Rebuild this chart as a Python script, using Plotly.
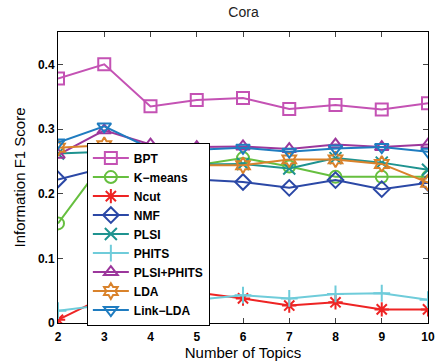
import plotly.graph_objects as go

topics = [2, 3, 4, 5, 6, 7, 8, 9, 10]
bpt = [0.378, 0.400, 0.335, 0.345, 0.348, 0.331, 0.337, 0.330, 0.340]
kmeans = [0.154, 0.250, 0.248, 0.244, 0.255, 0.242, 0.226, 0.226, 0.226]
ncut = [0.005, 0.040, 0.050, 0.047, 0.038, 0.027, 0.032, 0.021, 0.021]
nmf = [0.222, 0.240, 0.228, 0.222, 0.218, 0.209, 0.221, 0.207, 0.217]
plsi = [0.262, 0.265, 0.250, 0.245, 0.246, 0.239, 0.255, 0.248, 0.237]
phits = [0.019, 0.028, 0.033, 0.036, 0.043, 0.038, 0.045, 0.046, 0.036]
plsi_phits = [0.260, 0.298, 0.276, 0.272, 0.273, 0.269, 0.276, 0.272, 0.276]
lda = [0.271, 0.275, 0.250, 0.244, 0.244, 0.253, 0.253, 0.246, 0.217]
link_lda = [0.279, 0.304, 0.270, 0.268, 0.271, 0.265, 0.270, 0.272, 0.265]

series = [
    ("BPT", bpt, "#c452b4", "square-open"),
    ("K\u2212means", kmeans, "#66bf3f", "circle-open"),
    ("Ncut", ncut, "#ee2424", "asterisk-open"),
    ("NMF", nmf, "#2b48a6", "diamond-open"),
    ("PLSI", plsi, "#1f9390", "x-thin-open"),
    ("PHITS", phits, "#6fccda", "cross-thin-open"),
    ("PLSI+PHITS", plsi_phits, "#9c379c", "triangle-up-open"),
    ("LDA", lda, "#d9822b", "hexagram-open"),
    ("Link\u2212LDA", link_lda, "#1f7cc0", "triangle-down-open"),
]

fig = go.Figure()
for name, vals, color, sym in series:
    fig.add_trace(go.Scatter(
        x=topics, y=vals, name=name, mode="lines+markers",
        line=dict(color=color, width=2),
        marker=dict(symbol=sym, size=12, color=color, line=dict(color=color, width=2)),
    ))

fig.update_layout(
    width=438, height=363,
    margin=dict(l=58, r=10, t=32, b=40),
    paper_bgcolor="white", plot_bgcolor="white",
    font=dict(family="Liberation Sans, Arial, sans-serif", color="black"),
    title=dict(text="Cora", x=0.556, xanchor="center", y=0.968, yanchor="middle",
               font=dict(size=14, color="#222")),
    showlegend=True,
    legend=dict(x=0.078, y=0.62, xanchor="left", yanchor="top",
                bgcolor="white", bordercolor="black", borderwidth=1,
                font=dict(size=12, family="Liberation Sans, Arial, sans-serif", weight="bold"),
                tracegroupgap=0, itemwidth=36),
    xaxis=dict(range=[2, 10], tickvals=topics, ticks="inside", ticklen=5,
               showline=True, linecolor="black", linewidth=1, mirror="ticks",
               showgrid=False, zeroline=False, automargin=False,
               tickfont=dict(size=12, weight="bold"), ticklabelstandoff=3,
               title=dict(text="Number of Topics", font=dict(size=15), standoff=1)),
    yaxis=dict(range=[0, 0.45], tickvals=[0, 0.1, 0.2, 0.3, 0.4],
               ticktext=["0", "0.1", "0.2", "0.3", "0.4"],
               ticks="inside", ticklen=5,
               showline=True, linecolor="black", linewidth=1, mirror="ticks",
               showgrid=False, zeroline=False, automargin=False,
               tickfont=dict(size=12, weight="bold"),
               title=dict(text="Information F1 Score", font=dict(size=15), standoff=8)),
)

fig.write_html("out.html", config={"displayModeBar": False},
               post_script="document.body.style.margin='0';document.body.style.overflow='hidden';")
